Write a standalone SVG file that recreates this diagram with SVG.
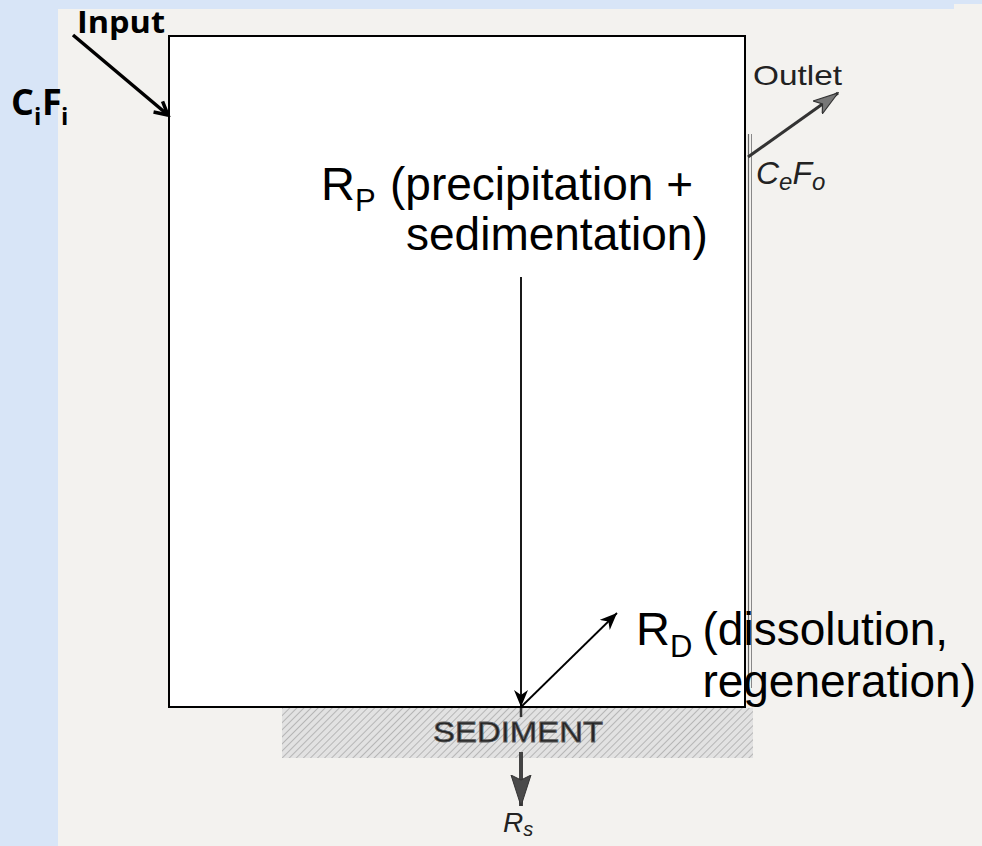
<svg xmlns="http://www.w3.org/2000/svg" width="982" height="846" viewBox="0 0 982 846">
<defs>
<style>
.lbl{font-family:"Liberation Sans",Arial,sans-serif;fill:#000}
.bold{font-family:"Open Sans","Liberation Sans",sans-serif;font-weight:700;fill:#000}
.scan{font-family:"Liberation Sans",Arial,sans-serif;fill:#222}
.it{font-style:italic}
.ln{stroke:#000;fill:none}
</style>
<pattern id="hatch" width="5" height="5" patternUnits="userSpaceOnUse" patternTransform="rotate(45)">
<rect width="5" height="5" fill="#e2e2e2"/>
<line x1="0" y1="0" x2="0" y2="5" stroke="#a8a8a8" stroke-width="1.5"/>
</pattern>
<marker id="vOpen" markerUnits="userSpaceOnUse" viewBox="0 0 20 20" refX="17" refY="10" markerWidth="20" markerHeight="20" orient="auto">
<path d="M4,3 L17,10 L4,17" fill="none" stroke="#000" stroke-width="3.5" stroke-linejoin="miter"/>
</marker>
<marker id="barb" markerUnits="userSpaceOnUse" viewBox="0 0 18 16" refX="17" refY="8" markerWidth="18" markerHeight="16" orient="auto">
<path d="M0,1 L17,8 L0,15 L5,8 z" fill="#000"/>
</marker>
<marker id="grayHead" markerUnits="userSpaceOnUse" viewBox="0 0 26 20" refX="25" refY="10" markerWidth="26" markerHeight="20" orient="auto">
<path d="M0,2 L25,10 L0,18 L6,10 z" fill="#777" stroke="#333" stroke-width="1.2"/>
</marker>
<marker id="bigHead" markerUnits="userSpaceOnUse" viewBox="0 0 32 22" refX="31" refY="11" markerWidth="32" markerHeight="22" orient="auto">
<path d="M0,1 L31,11 L0,21 L5,11 z" fill="#4a4a4a" stroke="#333" stroke-width="1"/>
</marker>
</defs>

<!-- background -->
<rect x="0" y="0" width="982" height="846" fill="#d8e5f7"/>
<rect x="58" y="9" width="924" height="837" fill="#f3f2ef"/>
<rect x="954" y="4" width="28" height="6" fill="#f3f2ef"/>

<g id="reservoir">
<rect x="169" y="36" width="576" height="671" fill="#fff" stroke="#000" stroke-width="2"/>
</g>

<g id="wall">
<line x1="748.5" y1="134" x2="748.5" y2="688" stroke="#666" stroke-width="1.2"/>
<line x1="751.5" y1="134" x2="751.5" y2="688" stroke="#888" stroke-width="1"/>
</g>

<g id="sediment">
<rect x="282" y="708" width="471" height="50" fill="url(#hatch)"/>
<text class="scan" x="433" y="742" font-size="30" textLength="170" lengthAdjust="spacingAndGlyphs" fill="#b4b4b4" stroke="#5a5a5a" stroke-width="0.8">SEDIMENT</text>
</g>

<g id="connectors">
<line class="ln" x1="73" y1="35" x2="168" y2="115" stroke-width="3.5" marker-end="url(#vOpen)"/>
<line class="ln" x1="521" y1="277" x2="521" y2="707" stroke-width="1.8" marker-end="url(#barb)"/>
<line class="ln" x1="521" y1="707" x2="617" y2="613" stroke-width="1.8" marker-end="url(#barb)"/>
<line x1="748" y1="157" x2="838" y2="93" stroke="#333" stroke-width="3" marker-end="url(#grayHead)"/>
<line x1="521" y1="708" x2="521" y2="717" stroke="#333" stroke-width="2.5"/>
<line x1="521" y1="752" x2="521" y2="806" stroke="#444" stroke-width="4" marker-end="url(#bigHead)"/>
</g>

<g id="input-label">
<text class="bold" x="77" y="33" font-size="30" textLength="88" lengthAdjust="spacingAndGlyphs">Input</text>
<text class="bold" font-size="36"><tspan x="11" y="115">C</tspan><tspan x="34" y="125" font-size="24">i</tspan><tspan x="42" y="115">F</tspan><tspan x="61" y="125" font-size="24">i</tspan></text>
</g>

<g id="outlet-label">
<text class="scan" x="753" y="85" font-size="28" textLength="89" lengthAdjust="spacingAndGlyphs">Outlet</text>
<text class="scan it" font-size="32"><tspan x="756" y="184">C</tspan><tspan font-size="24" dy="6">e</tspan><tspan font-size="32" dy="-6">F</tspan><tspan font-size="24" dy="6">o</tspan></text>
</g>

<g id="rp-label">
<text class="lbl" font-size="47"><tspan x="321" y="200">R</tspan><tspan font-size="31" dy="11">P</tspan></text>
<text class="lbl" font-size="46" x="390" y="200">(precipitation +</text>
<text class="lbl" font-size="46" x="406" y="250">sedimentation)</text>
</g>

<g id="rd-label">
<text class="lbl" font-size="47"><tspan x="636" y="645">R</tspan><tspan font-size="31" dy="12">D</tspan></text>
<text class="lbl" font-size="46" x="948" y="645" text-anchor="end">(dissolution,</text>
<text class="lbl" font-size="46" x="976" y="697" text-anchor="end">regeneration)</text>
</g>

<g id="rs-label">
<text class="scan it" font-size="28"><tspan x="503" y="832">R</tspan><tspan font-size="20" dy="4">s</tspan></text>
</g>
</svg>
